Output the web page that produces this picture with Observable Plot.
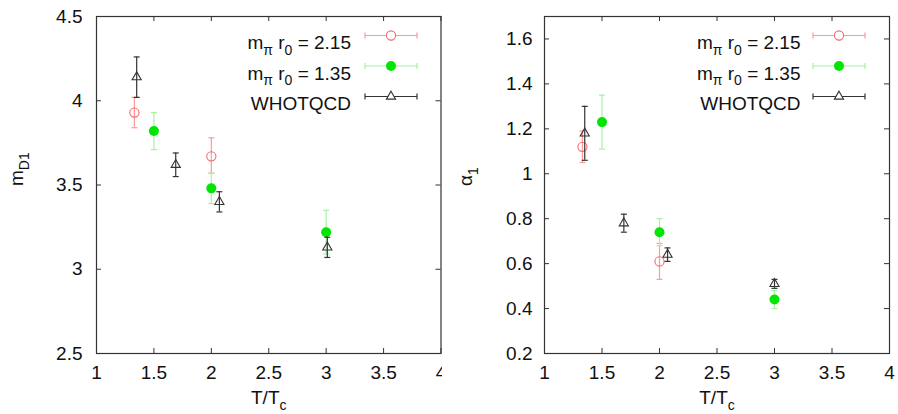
<!DOCTYPE html>
<html><head><meta charset="utf-8">
<script src="https://cdn.jsdelivr.net/npm/d3@7"></script>
<script src="https://cdn.jsdelivr.net/npm/@observablehq/plot@0.6"></script>
<style>
body{margin:0;background:#fff}
#wrap{position:relative;width:898px;height:414px;overflow:hidden;background:#fff}
#left{position:absolute;left:0;top:0;width:442px;height:414px;overflow:hidden}
#right{position:absolute;left:442px;top:0;width:456px;height:414px;overflow:hidden}
</style></head><body><div id="wrap"><div id="left"></div><div id="right"></div></div>
<script>
// series
const seriesNames = ["mπ r0 = 2.15", "mπ r0 = 1.35", "WHOTQCD"];
const seriesKeys = ["a", "b", "w"];

// left panel: m_D1
const mD1_a_T  = [1.33, 2.0];
const mD1_a    = [3.93, 3.67];
const mD1_a_lo = [3.84, 3.57];
const mD1_a_hi = [4.02, 3.78];
const mD1_b_T  = [1.5, 2.0, 3.0];
const mD1_b    = [3.82, 3.48, 3.22];
const mD1_b_lo = [3.71, 3.39, 3.09];
const mD1_b_hi = [3.93, 3.57, 3.35];
const mD1_w_T  = [1.35, 1.69, 2.07, 3.01];
const mD1_w    = [4.14, 3.62, 3.40, 3.13];
const mD1_w_lo = [4.02, 3.55, 3.34, 3.07];
const mD1_w_hi = [4.26, 3.69, 3.46, 3.19];

// right panel: alpha_1
const al_a_T  = [1.33, 2.0];
const al_a    = [1.12, 0.61];
const al_a_lo = [1.05, 0.53];
const al_a_hi = [1.19, 0.69];
const al_b_T  = [1.5, 2.0, 3.0];
const al_b    = [1.23, 0.74, 0.44];
const al_b_lo = [1.11, 0.68, 0.40];
const al_b_hi = [1.35, 0.80, 0.48];
const al_w_T  = [1.35, 1.69, 2.07, 3.0];
const al_w    = [1.18, 0.78, 0.64, 0.51];
const al_w_lo = [1.06, 0.74, 0.61, 0.49];
const al_w_hi = [1.30, 0.82, 0.67, 0.53];

// axes
const xTicks = [1, 1.5, 2, 2.5, 3, 3.5, 4];
const xDomain = [1, 4];
const leftYTicks = [2.5, 3, 3.5, 4, 4.5];
const leftYDomain = [2.5, 4.5];
const rightYTicks = [0.2, 0.4, 0.6, 0.8, 1, 1.2, 1.4, 1.6];
const rightYDomain = [0.2, 1.7];
const xLabel = "T/Tc";
const leftYLabel = "mD1";
const rightYLabel = "α1";

function rows(T, v, lo, hi, key) {
  return T.map((t, i) => ({key, T: t, v: v[i], lo: lo[i], hi: hi[i]}));
}

const FS = 19;
const style = {
  a: {bar: "#ff9a9a", mark: "#f46a6a", symbol: "circle", fill: "none", r: 4.6},
  b: {bar: "#a8f0a8", mark: "#00e600", symbol: "circle", fill: "#00e600", r: 5},
  w: {bar: "#333333", mark: "#333333", symbol: "triangle", fill: "none", r: 3.4}
};

const capSym = {draw(ctx) { ctx.moveTo(-3, 0); ctx.lineTo(3, 0); }};
const legendSym = {draw(ctx) {
  ctx.moveTo(-26, 0); ctx.lineTo(26, 0);
  ctx.moveTo(-26, -3); ctx.lineTo(-26, 3);
  ctx.moveTo(26, -3); ctx.lineTo(26, 3);
}};

function panel(data, cfg) {
  const marks = [];
  // ticks inside on all four sides
  marks.push(Plot.ruleX(xTicks, {x: d => d, stroke: "#333", insetTop: 332}));
  marks.push(Plot.ruleX(xTicks, {x: d => d, stroke: "#333", insetBottom: 332}));
  marks.push(Plot.ruleY(cfg.yTicks, {y: d => d, stroke: "#333", insetRight: cfg.plotW - 5}));
  marks.push(Plot.ruleY(cfg.yTicks, {y: d => d, stroke: "#333", insetLeft: cfg.plotW - 5}));
  marks.push(Plot.axisX(xTicks, {tickSize: 0, tickPadding: 12, tickFormat: d => String(d), label: null, fontSize: FS, fill: "#111"}));
  marks.push(Plot.axisY(cfg.yTicks, {tickSize: 0, tickPadding: cfg.yPad, tickFormat: d => String(d), label: null, fontSize: FS, fill: "#111"}));
  marks.push(Plot.text([cfg.yLabel], {text: d => d, frameAnchor: "left", rotate: -90, dx: cfg.yLabelDx, dy: 1, fontSize: FS, fill: "#111"}));
  marks.push(Plot.text([xLabel], {text: d => d, frameAnchor: "bottom", dy: 50, fontSize: FS, fill: "#111"}));
  for (const k of seriesKeys) {
    const d = data.filter(r => r.key === k);
    const s = style[k];
    marks.push(Plot.ruleX(d, {x: "T", y1: "lo", y2: "hi", stroke: s.bar, strokeWidth: 1.2}));
    marks.push(Plot.dot(d, {x: "T", y: "lo", symbol: capSym, stroke: s.bar, strokeWidth: 1.2}));
    marks.push(Plot.dot(d, {x: "T", y: "hi", symbol: capSym, stroke: s.bar, strokeWidth: 1.2}));
    marks.push(Plot.dot(d, {x: "T", y: "v", symbol: s.symbol, r: s.r, stroke: s.fill === "none" ? s.mark : "none", fill: s.fill, strokeWidth: 1.1}));
  }
  seriesKeys.forEach((k, i) => {
    const s = style[k];
    const dy = 19 + 30.5 * i;
    marks.push(Plot.text([seriesNames[i]], {text: d => d, frameAnchor: "top-right", textAnchor: "end", dx: cfg.legTextDx, dy, fontSize: FS, fill: "#111"}));
    marks.push(Plot.dot([0], {frameAnchor: "top-right", dx: cfg.legDx, dy, symbol: legendSym, stroke: s.bar, fill: "none", strokeWidth: 1.2}));
    marks.push(Plot.dot([0], {frameAnchor: "top-right", dx: cfg.legDx, dy, symbol: s.symbol, r: s.r, stroke: s.fill === "none" ? s.mark : "none", fill: s.fill === "none" ? "white" : s.fill, strokeWidth: 1.1}));
  });
  marks.push(Plot.frame({stroke: "#333", strokeWidth: 1.2}));
  const svg = Plot.plot({
    width: cfg.width, height: 414,
    marginLeft: cfg.ml, marginRight: cfg.mr, marginTop: 16, marginBottom: 61,
    x: {domain: xDomain, axis: null},
    y: {domain: cfg.yDomain, axis: null},
    style: {fontFamily: "'Liberation Sans', Arial, sans-serif", fontSize: "19px", color: "#111", background: "white", overflow: "hidden"},
    marks
  });
  // subscripts
  const sub = (t) => `<tspan dy="6" font-size="14">${t}</tspan>`;
  const rep = {
    "mπ r0 = 2.15": `m${sub("π")}<tspan dy="-6"> r</tspan>${sub("0")}<tspan dy="-6"> = 2.15</tspan>`,
    "mπ r0 = 1.35": `m${sub("π")}<tspan dy="-6"> r</tspan>${sub("0")}<tspan dy="-6"> = 1.35</tspan>`,
    "T/Tc": `T/T${sub("c")}`,
    "mD1": `m${sub("D1")}`,
    "α1": `α${sub("1")}`
  };
  d3.select(svg).selectAll("text").each(function() {
    const t = this.textContent;
    if (rep[t]) this.innerHTML = rep[t];
  });
  return svg;
}

const leftData = [
  ...rows(mD1_a_T, mD1_a, mD1_a_lo, mD1_a_hi, "a"),
  ...rows(mD1_b_T, mD1_b, mD1_b_lo, mD1_b_hi, "b"),
  ...rows(mD1_w_T, mD1_w, mD1_w_lo, mD1_w_hi, "w")
];
const rightData = [
  ...rows(al_a_T, al_a, al_a_lo, al_a_hi, "a"),
  ...rows(al_b_T, al_b, al_b_lo, al_b_hi, "b"),
  ...rows(al_w_T, al_w, al_w_lo, al_w_hi, "w")
];

document.getElementById("left").appendChild(panel(leftData, {
  width: 442, ml: 96, mr: 1.5, plotW: 344.5, yTicks: leftYTicks, yDomain: leftYDomain,
  yPad: 14, yLabel: leftYLabel, yLabelDx: -80, legTextDx: -90, legDx: -50
}));
document.getElementById("right").appendChild(panel(rightData, {
  width: 456, ml: 102, mr: 9, plotW: 345, yTicks: rightYTicks, yDomain: rightYDomain,
  yPad: 12, yLabel: rightYLabel, yLabelDx: -79, legTextDx: -89, legDx: -50.5
}));
</script></body></html>
